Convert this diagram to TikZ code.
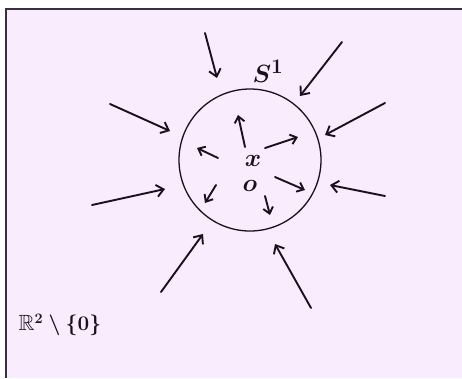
\documentclass[tikz,border=0pt]{standalone}
\usepackage{amssymb}
\usetikzlibrary{arrows.meta}
\definecolor{sheetfill}{HTML}{F8ECFD}
\definecolor{sheetink}{HTML}{1A1020}
\definecolor{sheetedge}{HTML}{3A3040}

\begin{document}
\begin{tikzpicture}[x=1pt,y=-1pt,
    flow/.style={sheetink,line width=1.9pt,line cap=round,line join=round,
      -{Straight Barb[length=7pt,width=12pt,line width=1.9pt]}},
    smallflow/.style={flow,-{Straight Barb[length=6pt,width=10pt,line width=1.9pt]}}]
    \useasboundingbox (0,0) rectangle (462,378);
    \fill[white] (0,0) rectangle (462,378);
    \fill[sheetfill] (6,9) rectangle (462,378);
    \draw[sheetedge,line width=1.4pt] (462,9) -- (6,9) -- (6,378);
    % the circle and its labels
    \node[draw=sheetink,line width=1.3pt,circle,minimum size=142pt,inner sep=0pt]
      (ring) at (250,160) {};
    \node[text=sheetink,font=\fontsize{30}{32}\selectfont\boldmath] (sone) at (268,71) {$S^1$};
    \node[text=sheetink,font=\fontsize{26}{28}\selectfont\boldmath] (xpt) at (253,161) {$x$};
    \node[text=sheetink,font=\fontsize{26}{28}\selectfont\boldmath] (opt) at (250,186) {$o$};
    \node[text=sheetink,font=\fontsize{22}{24}\selectfont\boldmath] (space) at (60,325)
      {$\mathbb{R}^2\setminus\{0\}$};
    % arrows coming in from outside
    \foreach \sx/\sy/\ex/\ey in {205/33/217/78, 342/42/300/96, 110/104/170/131,
        385/103/325/135, 92/205/165/189, 385/196/330/185,
        161/292/203/234, 311/308/275/244}{
      \draw[flow] (\sx,\sy) -- (\ex,\ey);
    }
    % arrows going out from x
    \foreach \sx/\sy/\ex/\ey in {245/147/238/115, 265/148/298/137, 218/158/197/148,
        216/185/205/203, 275/177/305/190, 265/196/270/215}{
      \draw[smallflow] (\sx,\sy) -- (\ex,\ey);
    }
  \end{tikzpicture}
\end{document}
